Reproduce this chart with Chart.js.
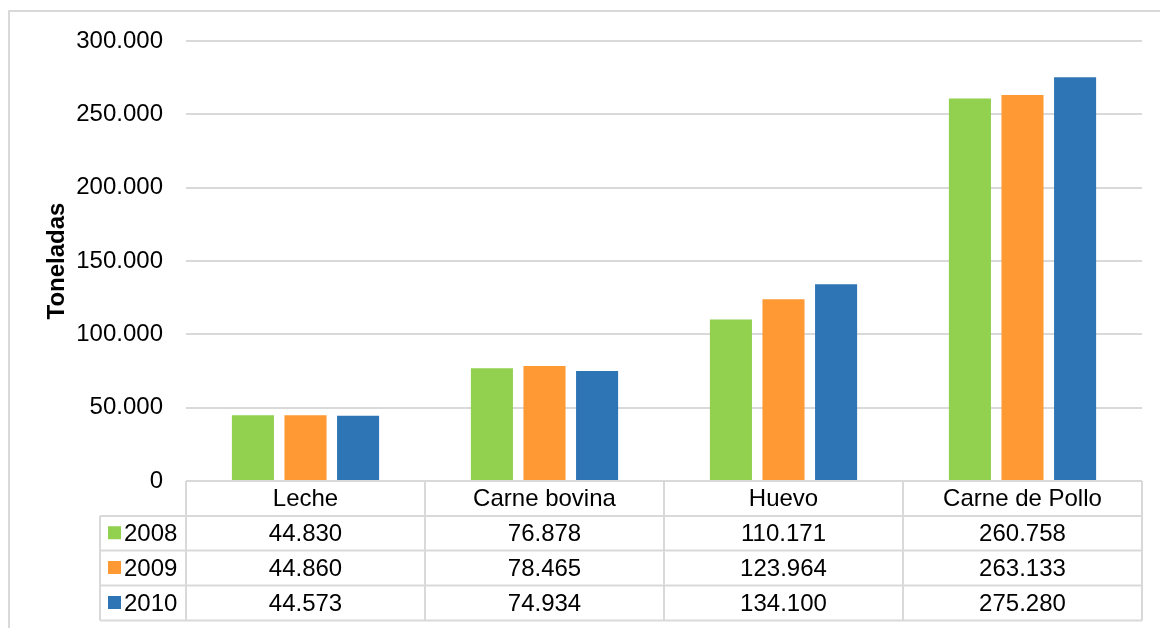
<!DOCTYPE html>
<html>
<head>
<meta charset="utf-8">
<script src="https://cdn.jsdelivr.net/npm/chart.js@4.4.1/dist/chart.umd.min.js"></script>
<style>
  html, body { margin: 0; padding: 0; background: #fff; }
  #wrap { width: 1160px; height: 628px; position: relative; }
</style>
</head>
<body>
<div id="wrap"><canvas id="chart"></canvas></div>
<script>
"use strict";

const CATEGORIES = ["Leche", "Carne bovina", "Huevo", "Carne de Pollo"];
const YEARS = ["2008", "2009", "2010"];
const VALUES_2008 = [44830, 76878, 110171, 260758];
const VALUES_2009 = [44860, 78465, 123964, 263133];
const VALUES_2010 = [44573, 74934, 134100, 275280];
const COLORS = ["#92D050", "#FF9933", "#2E75B6"];

const FONT = "Arial, 'Liberation Sans', sans-serif";
const FSIZE = 24;
const GRID = "#D9D9D9";

// miles con punto: 300000 -> "300.000"
function fmtNum(v) {
  return String(Math.round(v)).replace(/\B(?=(\d{3})+(?!\d))/g, ".");
}

// tabla de datos bajo el gráfico + marco exterior
const dataTable = {
  id: "dataTable",
  beforeDraw(chart) {
    const c = chart.ctx;
    c.save();
    c.fillStyle = "#fff";
    c.fillRect(0, 0, chart.width, chart.height);
    c.strokeStyle = GRID;
    c.lineWidth = 2;
    c.strokeRect(9, 11, chart.width + 10, chart.height + 10);
    c.restore();
  },
  afterDraw(chart) {
    const c = chart.ctx;
    const x = chart.scales.x;
    const area = chart.chartArea;
    const rows = [area.bottom, area.bottom + 35, area.bottom + 69.5, area.bottom + 104.5, area.bottom + 139.5];
    const legLeft = 100;
    const step = (area.right - area.left) / CATEGORIES.length;
    const series = [VALUES_2008, VALUES_2009, VALUES_2010];

    c.save();
    c.strokeStyle = GRID;
    c.lineWidth = 2;
    c.beginPath();
    // líneas horizontales
    c.moveTo(area.left, rows[0]); c.lineTo(area.right, rows[0]);
    for (let i = 1; i < rows.length; i++) {
      c.moveTo(legLeft, rows[i]); c.lineTo(area.right, rows[i]);
    }
    // líneas verticales
    c.moveTo(legLeft, rows[1]); c.lineTo(legLeft, rows[4]);
    for (let i = 0; i <= CATEGORIES.length; i++) {
      const px = area.left + step * i;
      c.moveTo(px, rows[0]); c.lineTo(px, rows[4]);
    }
    c.stroke();

    c.fillStyle = "#000";
    c.font = FSIZE + "px " + FONT;
    c.textAlign = "center";
    c.textBaseline = "middle";
    CATEGORIES.forEach((cat, i) => {
      const cx = x.getPixelForValue(i);
      c.fillText(cat, cx, (rows[0] + rows[1]) / 2 + 1);
      series.forEach((vals, j) => {
        c.fillText(fmtNum(vals[i]), cx, (rows[j + 1] + rows[j + 2]) / 2 + 1);
      });
    });

    // leyenda
    c.textAlign = "left";
    YEARS.forEach((yr, j) => {
      const cy = (rows[j + 1] + rows[j + 2]) / 2;
      c.fillStyle = COLORS[j];
      c.fillRect(108, cy - 7, 13, 13);
      c.fillStyle = "#000";
      c.fillText(yr, 124, cy + 1);
    });
    c.restore();
  },
};

new Chart(document.getElementById("chart"), {
  type: "bar",
  data: {
    labels: CATEGORIES,
    datasets: YEARS.map((yr, j) => ({
      label: yr,
      data: [VALUES_2008, VALUES_2009, VALUES_2010][j],
      backgroundColor: COLORS[j],
      borderWidth: 0,
      categoryPercentage: 0.66,
      barPercentage: 0.8,
    })),
  },
  options: {
    responsive: true,
    maintainAspectRatio: false,
    animation: false,
    layout: { padding: { left: 0, top: 41, right: 18, bottom: 0 } },
    plugins: { legend: { display: false }, tooltip: { enabled: false } },
    scales: {
      x: {
        grid: { display: false },
        border: { display: false },
        ticks: { display: false },
        afterFit: (s) => { s.height = 147; },
      },
      y: {
        min: 0,
        max: 300000,
        grid: { color: GRID, lineWidth: 2, drawTicks: false },
        border: { display: false },
        ticks: {
          stepSize: 50000,
          padding: 23,
          color: "#000",
          font: { family: FONT, size: FSIZE },
          callback: (v) => fmtNum(v),
        },
        title: {
          display: true,
          text: "Toneladas",
          color: "#000",
          font: { family: FONT, size: FSIZE, weight: "bold" },
          padding: { top: 43, bottom: 0 },
        },
        afterFit: (s) => { s.width = 186; },
      },
    },
  },
  plugins: [dataTable],
});
</script>
</body>
</html>
